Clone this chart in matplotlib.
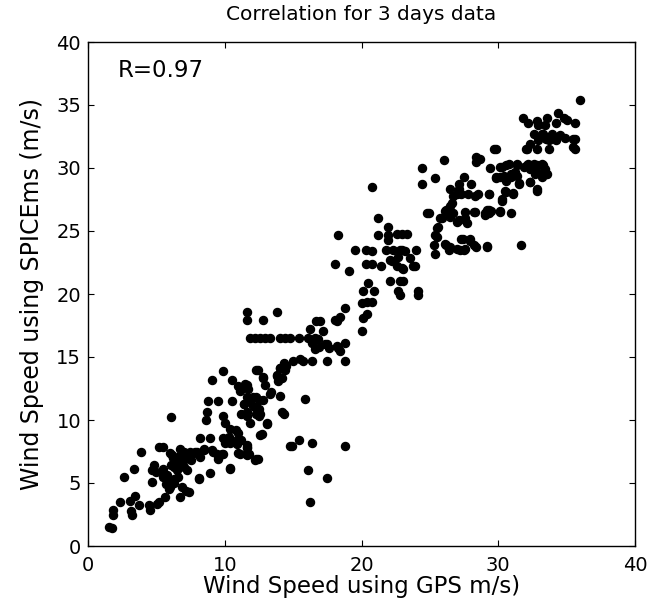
"""
Scatter of wind speed from GPS against wind speed from SPICEms (3 days of data).
Saves out.png.
"""

import matplotlib

matplotlib.use("Agg")
import matplotlib.pyplot as plt
import numpy as np

# (GPS m/s, SPICEms m/s) pairs, grouped by speed range
low_points = [
    (1.55, 1.5), (1.75, 1.4), (1.8, 2.85), (1.8, 2.5), (2.35, 3.5), (2.65, 5.5),
    (3.05, 3.6), (3.45, 4.0), (3.15, 2.8), (3.2, 2.5), (3.4, 6.1), (3.7, 3.25),
    (3.85, 7.5), (4.45, 3.25), (4.5, 2.85), (4.7, 5.1), (4.7, 6.0), (4.8, 6.4),
    (4.95, 5.9), (5.05, 3.35), (5.2, 3.5), (5.2, 7.85), (5.5, 7.85), (5.65, 3.9),
    (5.5, 6.1), (5.8, 5.6), (5.5, 5.45), (5.9, 5.2), (6.0, 4.7), (6.15, 7.2),
    (6.4, 6.6), (6.5, 6.5), (6.75, 6.9), (7.0, 6.25), (7.25, 6.0), (7.6, 7.3),
    (7.85, 7.45), (7.5, 6.8), (8.2, 7.05), (6.9, 4.7), (7.2, 4.4), (6.75, 3.9),
    (6.75, 7.7), (8.1, 5.3), (8.95, 5.8), (9.9, 7.3), (10.05, 8.2), (10.4, 8.2),
    (10.9, 8.1), (11.1, 7.3), (11.6, 7.85), (11.75, 7.3), (12.2, 6.8), (10.4, 6.1),
    (8.45, 7.7), (9.05, 7.6), (9.45, 7.3), (5.45, 5.8), (5.7, 4.9), (6.3, 5.3),
    (5.9, 4.5), (6.0, 7.4), (6.2, 7.0), (6.3, 6.3), (6.6, 7.1), (6.9, 6.5),
    (7.1, 6.9), (7.3, 7.2), (6.1, 6.4), (6.5, 6.0), (7.0, 7.5), (6.3, 5.0),
    (6.6, 5.5), (7.35, 4.3), (8.1, 5.4),
]

mid_low_points = [
    (6.1, 10.25), (9.9, 13.85), (9.05, 13.2), (10.5, 13.2), (12.4, 14.0), (12.8, 13.4),
    (12.95, 12.8), (13.8, 13.5), (14.05, 14.15), (14.4, 14.0), (11.0, 12.7), (11.5, 12.85),
    (11.7, 12.5), (11.1, 12.3), (13.3, 12.1), (14.05, 11.9), (15.9, 11.7), (8.8, 11.5),
    (9.5, 11.5), (10.5, 11.5), (11.4, 11.25), (11.7, 11.6), (12.1, 11.8), (12.5, 11.6),
    (12.8, 11.6), (12.2, 11.0), (12.5, 10.9), (12.3, 10.5), (8.7, 10.6), (8.65, 10.0),
    (9.9, 10.3), (10.0, 9.8), (11.2, 10.5), (11.6, 10.3), (11.85, 9.8), (12.5, 10.3),
    (13.1, 9.8), (14.2, 10.6), (10.4, 9.3), (10.8, 9.2), (11.0, 9.0), (10.3, 8.65),
    (12.6, 8.8), (8.2, 8.6), (8.9, 8.6), (9.9, 8.6), (10.1, 8.25), (10.9, 8.4),
    (11.0, 7.4), (11.6, 7.8), (11.6, 7.2), (12.4, 6.9), (10.4, 6.2), (7.45, 7.45),
    (7.95, 7.45), (8.45, 7.6), (9.15, 7.45), (9.8, 7.3), (9.5, 6.9), (12.7, 8.9),
    (11.6, 8.0), (11.2, 8.4), (13.1, 9.7), (12.6, 10.5), (14.3, 10.5), (11.6, 10.6),
    (11.4, 11.3), (12.1, 11.1), (11.6, 11.8), (12.3, 11.8), (11.6, 12.8), (11.4, 12.6),
    (13.4, 12.2), (12.8, 13.35), (12.3, 14.0), (13.8, 13.6), (13.9, 13.1), (14.2, 13.35),
    (14.05, 14.1), (14.5, 14.3), (14.3, 14.55), (12.3, 6.9), (11.6, 7.3),
]

outlier_points = [
    (14.8, 7.9), (15.4, 8.4), (16.4, 8.15), (18.8, 7.9), (16.1, 6.05), (17.5, 5.4),
    (16.25, 3.5), (14.9, 7.9),
]

# the flat run of SPICEms readings near 16.5 m/s
flat_points = [
    (11.85, 16.5), (12.2, 16.5), (12.6, 16.5), (12.95, 16.5), (13.3, 16.5), (14.05, 16.5),
    (14.4, 16.5), (14.8, 16.5), (15.4, 16.5), (16.1, 16.5), (16.6, 16.5),
]

mid_points = [
    (11.6, 18.6), (11.6, 17.9), (12.8, 17.95), (13.8, 18.6), (16.25, 17.2), (16.7, 17.85),
    (17.2, 17.05), (16.4, 16.1), (16.85, 16.4), (17.3, 16.0), (16.6, 15.6), (17.6, 15.75),
    (18.3, 15.75), (18.4, 15.5), (18.8, 16.1), (18.2, 17.85), (18.4, 18.2), (18.8, 18.9),
    (17.45, 14.7), (18.8, 14.7), (16.4, 14.7), (15.75, 14.7), (15.5, 14.85), (15.0, 14.7),
    (16.9, 15.8), (16.95, 17.85), (17.45, 16.0), (18.2, 15.85), (18.05, 17.95), (20.0, 17.05),
    (20.1, 18.1), (20.4, 18.4), (20.0, 19.3), (20.4, 19.4), (20.75, 19.4), (20.1, 20.2),
    (20.9, 20.2), (20.5, 20.85), (22.1, 21.05), (22.8, 21.0), (22.7, 20.2), (24.1, 20.2),
    (24.1, 19.9), (21.4, 22.2), (22.2, 22.6), (22.6, 22.2), (23.0, 22.0), (23.9, 22.2),
    (23.55, 22.85), (22.1, 22.7), (22.7, 22.95), (21.8, 23.5), (22.3, 23.5), (22.8, 23.5),
    (23.2, 23.4), (24.0, 23.5), (19.5, 23.5), (20.3, 23.5), (20.8, 23.4), (18.05, 22.4),
    (19.1, 21.8), (20.3, 22.4), (20.8, 22.4), (21.2, 24.7), (21.95, 24.7), (22.6, 24.8),
    (23.3, 24.8), (21.95, 25.3), (21.2, 26.0), (21.95, 24.3), (18.25, 24.7), (20.8, 28.5),
    (22.8, 19.95), (23.05, 21.0), (22.95, 22.05), (23.8, 22.2), (22.95, 23.5), (22.95, 24.8),
]

upper_points = [
    (24.8, 26.4), (25.4, 24.7), (25.3, 23.9), (25.4, 23.2), (26.1, 24.0), (26.4, 23.5),
    (27.0, 23.6), (27.5, 23.5), (27.4, 24.4), (27.9, 24.2), (28.2, 23.9), (29.2, 23.8),
    (25.6, 25.3), (25.75, 26.0), (26.1, 26.6), (26.5, 27.0), (27.0, 25.7), (27.7, 25.6),
    (27.6, 26.5), (28.2, 26.5), (29.0, 26.4), (29.5, 26.6), (30.1, 26.6), (27.0, 27.95),
    (27.8, 27.95), (28.5, 27.95), (29.3, 27.95), (25.5, 24.5), (25.5, 25.2), (25.9, 26.0),
    (26.2, 26.65), (26.6, 27.2), (26.5, 26.1), (27.1, 25.9), (27.6, 26.0), (26.7, 26.4),
    (24.9, 26.4), (26.2, 23.9), (26.5, 23.75), (27.3, 24.4), (27.9, 24.4), (28.4, 23.75),
    (29.2, 23.75), (27.6, 23.6), (27.2, 23.5), (31.7, 23.9), (28.3, 26.5), (29.3, 26.65),
    (30.9, 26.4), (26.7, 27.8), (27.3, 27.95), (28.3, 27.8), (30.3, 27.4), (30.6, 28.1),
    (31.1, 27.95), (27.1, 28.3), (26.5, 28.3), (27.1, 28.7), (27.5, 29.3), (28.0, 28.7),
    (24.4, 30.0), (24.4, 28.7), (25.4, 29.2), (26.0, 30.6),
]

top_points = [
    (28.4, 30.9), (28.4, 30.5), (29.4, 30.0), (29.8, 31.5), (29.8, 29.3), (30.1, 30.1),
    (30.6, 30.2), (31.35, 30.2), (32.1, 30.2), (32.8, 30.2), (33.3, 30.2), (30.4, 29.4),
    (30.9, 29.5), (31.35, 29.4), (31.5, 28.7), (32.35, 28.9), (32.8, 28.2), (32.8, 29.7),
    (33.3, 29.5), (33.5, 29.5), (32.0, 31.5), (32.8, 31.5), (33.5, 32.3), (34.2, 32.3),
    (34.9, 32.4), (35.5, 32.3), (35.5, 31.7), (32.6, 32.7), (33.3, 32.7), (36.0, 35.4),
    (31.8, 34.0), (32.2, 33.6), (32.8, 33.7), (33.55, 34.0), (34.4, 34.4), (34.8, 34.0),
    (35.0, 33.8), (35.6, 33.6), (34.2, 33.6), (32.9, 33.4), (33.4, 33.4), (33.2, 32.7),
    (33.9, 32.7), (34.5, 32.6), (35.6, 32.3), (35.6, 31.5), (33.7, 31.5), (32.1, 31.5),
    (32.3, 31.9), (32.9, 32.2), (33.7, 32.2), (34.2, 32.2), (29.7, 31.5), (28.7, 30.7),
    (29.8, 29.2), (30.3, 30.1), (30.8, 30.3), (31.4, 30.3), (31.9, 30.1), (32.2, 30.3),
    (32.6, 30.3), (33.2, 30.3), (33.4, 29.9), (33.55, 29.5), (33.2, 29.3), (32.3, 29.9),
    (32.7, 29.5), (31.2, 29.7), (30.9, 29.3), (31.5, 28.8), (32.3, 28.9), (30.6, 29.0),
    (30.1, 29.3), (32.8, 28.3), (30.5, 28.2), (31.1, 28.05), (29.3, 27.9), (30.3, 27.5),
    (29.2, 26.65), (29.3, 26.4), (29.0, 26.3), (30.1, 26.5),
]

correlation_text = "R=0.97"
axis_ticks_x = [0, 10, 20, 30, 40]
axis_ticks_y = [0, 5, 10, 15, 20, 25, 30, 35, 40]

all_points = np.array(
    low_points + mid_low_points + outlier_points + flat_points
    + mid_points + upper_points + top_points
)
gps_speed = all_points[:, 0]
spicems_speed = all_points[:, 1]

fig = plt.figure(figsize=(6.56, 6.06), dpi=100)
ax = fig.add_axes([88 / 656, 60 / 606, 547 / 656, 504 / 606])

ax.plot(gps_speed, spicems_speed, "o", color="black", markersize=5.8, linestyle="none")

ax.set_xlim(0, 40)
ax.set_ylim(0, 40)
ax.set_xticks(axis_ticks_x)
ax.set_yticks(axis_ticks_y)
ax.tick_params(direction="in", top=True, right=True, length=4, labelsize=14)
ax.tick_params(axis="x", pad=7)
ax.tick_params(axis="y", pad=5)
for spine in ax.spines.values():
    spine.set_linewidth(1.0)

ax.text(2.2, 37.25, correlation_text, fontsize=16.5, va="baseline")

ax.set_title("Correlation for 3 days data", fontsize=14.5, pad=16)
ax.set_xlabel("Wind Speed using GPS m/s)", fontsize=16.5, labelpad=0)
ax.set_ylabel("Wind Speed using SPICEms (m/s)", fontsize=17, labelpad=9)

plt.savefig("out.png", dpi=100, facecolor="white")
plt.close(fig)
